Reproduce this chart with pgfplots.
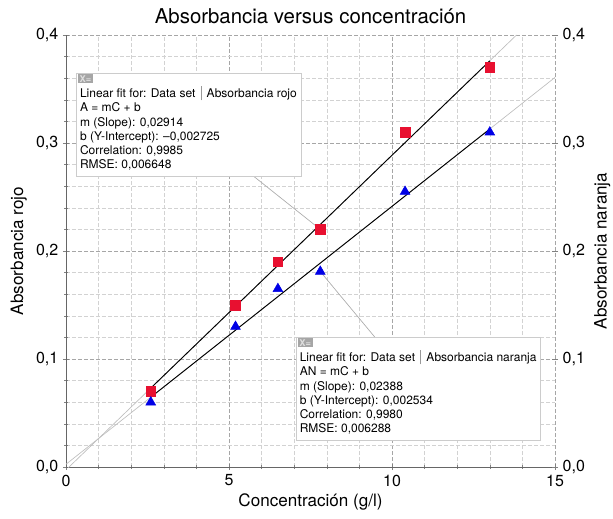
\documentclass[border=0pt]{standalone}
\usepackage{pgfplots}
\pgfplotsset{compat=1.18}
\usepackage{fontspec}
\setmainfont{TeX Gyre Heros}

\definecolor{rojo}{RGB}{232,16,48}
\definecolor{azul}{RGB}{0,0,230}
\definecolor{fitgray}{RGB}{190,190,190}

% fit lines: y = m x + b
% rojo:    m = 0.02914, b = -0.002725
% naranja: m = 0.02388, b =  0.002534
\pgfplotstableread{
x      y
2.6    0.070
5.2    0.150
6.5    0.190
7.8    0.220
10.4   0.310
13.0   0.370
}\rojo
\pgfplotstableread{
x      y
2.6    0.060
5.2    0.130
6.5    0.165
7.8    0.181
10.4   0.255
13.0   0.310
}\naranja

\newcommand{\sep}{\hspace{4pt}\textcolor{gray!80}{\rule[-2pt]{0.5pt}{10.5pt}}\hspace{4pt}}
\newcommand{\lblfont}{\fontsize{12.8}{15}\selectfont}

\pgfplotsset{
  base/.style={
    scale only axis, width=366.75pt, height=324pt,
    xmin=0, xmax=15, ymin=0, ymax=0.4,
    ytick={0,0.1,...,0.4},
    tick align=outside,
    major tick length=4.5pt, minor tick length=2.5pt,
    tick style={gray},
    axis line style={gray!80!black},
    /pgf/number format/assume math mode=true,
    yticklabel style={/pgf/number format/.cd, fixed, fixed zerofill, precision=1, use comma},
    ticklabel style={font=\fontsize{12}{14}\selectfont},
  },
}
\tikzset{
  box/.style={draw=gray!40, fill=white, anchor=north west, align=left,
    inner xsep=3pt, inner ysep=4pt, font=\fontsize{9}{10.7}\selectfont},
  icon/.style={fill=gray!70, text=gray!25, anchor=north west, inner xsep=1.2pt, inner ysep=0.8pt,
    xshift=1.5pt, yshift=-0.8pt, font=\fontsize{7}{7}\selectfont\bfseries},
}

\begin{document}
\begin{tikzpicture}
\begin{axis}[base, name=ax,
    axis x line=bottom, axis y line=left,
    axis line style={-},
    xtick={0,5,10,15}, minor x tick num=4, minor y tick num=4,
    grid=both,
    major grid style={dashed, gray!70, dash pattern=on 3pt off 1.5pt},
    minor grid style={dashed, gray!35, dash pattern=on 3pt off 1.5pt},
    title={Absorbancia versus concentración},
    title style={font=\fontsize{15.3}{17}\selectfont, at={(0.5,1)}, anchor=south, yshift=-1pt},
    xlabel={Concentración (g/l)},
    ylabel={Absorbancia rojo},
    xlabel style={font=\lblfont, yshift=1pt},
    ylabel style={font=\lblfont, yshift=0pt},
    clip=true]
  % extended fit lines (thin, gray)
  \addplot[fitgray, line width=0.5pt] coordinates {(0,-0.002725) (13.82,0.4)};
  \addplot[fitgray, line width=0.5pt] coordinates {(0,0.002534) (15,0.36073)};
  % leader lines from the annotation boxes
  \addplot[fitgray!90!black, line width=0.5pt] coordinates {(5.64,0.272) (7.8,0.22)};
  \addplot[fitgray!90!black, line width=0.5pt] coordinates {(7.8,0.181) (9.48,0.12)};
  % fitted range (black)
  \addplot[black, line width=0.7pt] coordinates {(2.6,0.07304) (13,0.37609)};
  \addplot[black, line width=0.7pt] coordinates {(2.6,0.06462) (13,0.31298)};
  % data
  \addplot[only marks, mark=square*, mark size=3.6pt, color=rojo] table[x=x,y=y] {\rojo};
  \addplot[only marks, mark=triangle*, mark size=4.2pt, color=azul] table[x=x,y=y] {\naranja};
  % annotation boxes
  \node[box] (b1) at (axis cs:0.3,0.365) {\rule{0pt}{14.4pt}Linear fit for: Data set\sep Absorbancia rojo\\
    A = mC + b\\ m (Slope): 0,02914\\ b (Y-Intercept): \textendash0,002725\\ Correlation: 0,9985\\ RMSE: 0,006648};
  \node[icon] at (b1.north west) {X=};
  \node[box] (b2) at (axis cs:7.04,0.1205) {\rule{0pt}{14.4pt}Linear fit for: Data set\sep Absorbancia naranja\\
    AN = mC + b\\ m (Slope): 0,02388\\ b (Y-Intercept): 0,002534\\ Correlation: 0,9980\\ RMSE: 0,006288};
  \node[icon] at (b2.north west) {X=};
\end{axis}
\begin{axis}[base,
    axis x line=none, axis y line=right,
    axis line style={-, draw=none},
    ylabel={Absorbancia naranja},
    ylabel style={font=\lblfont}]
  \addplot[draw=none] coordinates {(0,0) (15,0.4)};
\end{axis}
\pgfresetboundingbox
\path (ax.south west) ++(-49.5pt,-38.25pt) rectangle ++(459.75pt,388.5pt);
\end{tikzpicture}
\end{document}
